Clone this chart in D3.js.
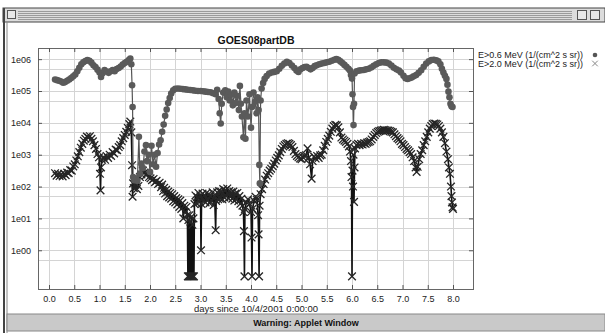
<!DOCTYPE html>
<html>
<head>
<meta charset="utf-8">
<script src="https://cdn.jsdelivr.net/npm/d3@7"></script>
<style>
  body { margin: 0; background: #fff; }
  svg { display: block; font-family: "Liberation Sans", Arial, sans-serif; }
</style>
</head>
<body>
<svg id="chart"></svg>
<script>
// tick values and labels
var xTicks = [0, 0.5, 1, 1.5, 2, 2.5, 3, 3.5, 4, 4.5, 5, 5.5, 6, 6.5, 7, 7.5, 8];
var yTicks = [1, 10, 100, 1000, 10000, 100000, 1000000];
var yTickLabels = ["1e00", "1e01", "1e02", "1e03", "1e04", "1e05", "1e06"];
var yMinor = [0.5, 5, 50, 500, 5000, 50000, 500000];
var seriesNames = ["E>0.6 MeV (1/(cm^2 s sr))", "E>2.0 MeV (1/(cm^2 s sr))"];

// floor used by the applet for empty readings (log10)
var F = -0.82;

// [day, log10 flux]
var p06 = [[0.12,5.36],[0.16,5.34],[0.20,5.32],[0.24,5.30],[0.28,5.26],[0.32,5.28],[0.36,5.32],[0.40,5.36],[0.44,5.41],[0.48,5.46],[0.52,5.52],[0.56,5.62],[0.60,5.73],[0.64,5.84],[0.68,5.90],[0.72,5.94],[0.76,5.97],[0.80,5.95],[0.84,5.89],[0.88,5.81],[0.92,5.75],[0.96,5.67],[1.00,5.58],[1.03,5.44],[1.06,5.56],[1.10,5.66],[1.14,5.61],[1.18,5.57],[1.22,5.62],[1.26,5.66],[1.30,5.62],[1.34,5.69],[1.38,5.72],[1.42,5.77],[1.46,5.83],[1.50,5.88],[1.54,5.92],[1.58,5.97],[1.61,6.02],[1.63,5.84],[1.645,5.18],[1.655,4.50],[1.665,2.30],[1.69,2.20],[1.72,2.26],[1.75,2.18],[1.78,3.56],[1.80,2.40],[1.83,2.72],[1.86,2.58],[1.89,3.10],[1.92,3.30],[1.94,2.80],[1.97,3.00],[2.00,2.46],[2.03,3.28],[2.06,2.70],[2.09,3.00],[2.12,2.62],[2.15,3.05],[2.18,3.32],[2.21,3.45],[2.24,3.72],[2.27,3.95],[2.30,4.22],[2.33,4.42],[2.36,4.62],[2.39,4.78],[2.42,4.92],[2.46,5.02],[2.50,5.07],[2.55,5.08],[2.60,5.07],[2.65,5.06],[2.70,5.05],[2.75,5.04],[2.80,5.03],[2.85,5.02],[2.90,5.01],[2.95,5.00],[3.00,5.00],[3.05,4.99],[3.10,4.98],[3.15,4.97],[3.20,4.96],[3.25,4.93],[3.30,4.90],[3.33,5.04],[3.36,4.75],[3.38,4.30],[3.40,3.98],[3.42,4.60],[3.45,4.95],[3.49,5.02],[3.52,4.80],[3.55,4.98],[3.58,4.70],[3.61,4.88],[3.64,4.55],[3.67,4.95],[3.70,4.62],[3.73,4.85],[3.76,4.40],[3.78,5.16],[3.80,4.60],[3.82,4.20],[3.85,3.55],[3.87,4.30],[3.89,3.50],[3.91,4.70],[3.94,4.20],[3.97,4.90],[4.00,3.85],[4.02,4.50],[4.05,4.95],[4.08,4.66],[4.11,4.30],[4.13,4.80],[4.15,4.40],[4.165,2.68],[4.175,2.10],[4.19,4.70],[4.21,5.08],[4.24,5.25],[4.27,5.38],[4.31,5.47],[4.36,5.55],[4.41,5.58],[4.46,5.60],[4.51,5.62],[4.56,5.70],[4.61,5.79],[4.66,5.86],[4.71,5.92],[4.76,5.88],[4.81,5.80],[4.86,5.72],[4.90,5.64],[4.94,5.60],[4.98,5.68],[5.02,5.72],[5.06,5.75],[5.10,5.76],[5.14,5.72],[5.18,5.68],[5.22,5.72],[5.26,5.78],[5.30,5.81],[5.35,5.84],[5.40,5.86],[5.45,5.88],[5.50,5.90],[5.55,5.92],[5.60,5.95],[5.65,5.98],[5.69,6.00],[5.73,5.98],[5.77,5.93],[5.81,5.88],[5.85,5.82],[5.89,5.76],[5.93,5.70],[5.96,5.64],[5.98,5.50],[6.00,5.39],[6.01,4.90],[6.02,4.50],[6.03,3.93],[6.04,4.60],[6.05,5.55],[6.09,5.62],[6.14,5.64],[6.18,5.65],[6.23,5.66],[6.28,5.68],[6.33,5.70],[6.38,5.74],[6.43,5.79],[6.48,5.84],[6.53,5.88],[6.58,5.90],[6.63,5.90],[6.68,5.89],[6.73,5.86],[6.78,5.80],[6.83,5.73],[6.88,5.68],[6.93,5.64],[6.97,5.58],[7.02,5.48],[7.06,5.40],[7.10,5.38],[7.14,5.40],[7.18,5.42],[7.22,5.46],[7.27,5.50],[7.32,5.57],[7.37,5.65],[7.42,5.76],[7.47,5.86],[7.52,5.93],[7.57,5.97],[7.62,5.98],[7.67,5.96],[7.71,5.93],[7.75,5.84],[7.78,5.70],[7.81,5.58],[7.84,5.48],[7.87,5.38],[7.89,5.20],[7.91,4.98],[7.93,4.80],[7.95,4.60],[7.97,4.52],[7.99,4.50]];

var p20 = [[0.12,2.42],[0.15,2.34],[0.18,2.40],[0.21,2.33],[0.24,2.38],[0.27,2.32],[0.30,2.40],[0.33,2.36],[0.36,2.44],[0.39,2.42],[0.42,2.52],[0.45,2.50],[0.48,2.63],[0.51,2.70],[0.54,2.82],[0.57,2.95],[0.60,3.08],[0.63,3.22],[0.66,3.34],[0.69,3.44],[0.72,3.50],[0.75,3.57],[0.78,3.54],[0.81,3.58],[0.84,3.50],[0.87,3.42],[0.90,3.30],[0.93,3.18],[0.96,3.02],[0.99,2.92],[1.01,2.40],[1.02,1.88],[1.03,2.60],[1.05,2.84],[1.08,2.92],[1.11,2.84],[1.14,2.96],[1.17,2.90],[1.20,3.00],[1.23,2.96],[1.26,3.08],[1.29,3.04],[1.32,3.16],[1.35,3.14],[1.38,3.24],[1.41,3.30],[1.44,3.42],[1.47,3.52],[1.50,3.62],[1.53,3.72],[1.56,3.84],[1.59,3.96],[1.61,4.04],[1.63,3.70],[1.645,2.67],[1.655,1.68],[1.665,2.10],[1.68,1.95],[1.71,2.06],[1.74,1.92],[1.77,2.02],[1.80,2.30],[1.83,2.38],[1.86,2.50],[1.89,2.44],[1.92,2.36],[1.95,2.42],[1.98,2.30],[2.01,2.26],[2.04,2.20],[2.07,2.24],[2.10,2.14],[2.13,2.18],[2.16,2.08],[2.19,2.12],[2.22,1.98],[2.24,2.06],[2.26,1.86],[2.28,1.96],[2.30,1.78],[2.32,1.90],[2.34,1.70],[2.36,1.84],[2.38,1.66],[2.40,1.80],[2.42,1.62],[2.44,1.76],[2.46,1.54],[2.48,1.70],[2.50,1.50],[2.52,1.64],[2.54,1.44],[2.56,1.60],[2.58,1.36],[2.60,1.56],[2.62,1.30],[2.64,1.48],[2.66,1.00],[2.68,1.40],[2.70,1.20],[2.72,1.36],[2.74,1.10],[2.75,F],[2.76,0.95],[2.77,F],[2.78,1.10],[2.79,F],[2.80,0.90],[2.81,F],[2.82,1.05],[2.83,F],[2.84,0.80],[2.85,F],[2.86,1.00],[2.87,F],[2.88,1.45],[2.90,1.72],[2.92,1.48],[2.94,1.66],[2.96,1.80],[2.98,1.52],[3.00,1.70],[3.01,0.00],[3.02,1.45],[3.04,1.78],[3.06,1.56],[3.08,1.72],[3.10,1.50],[3.12,1.80],[3.14,1.58],[3.16,1.76],[3.18,1.48],[3.20,1.70],[3.22,1.56],[3.24,1.82],[3.26,1.42],[3.28,1.68],[3.30,0.63],[3.31,1.55],[3.33,1.82],[3.35,1.60],[3.37,1.86],[3.39,1.62],[3.41,1.84],[3.43,1.60],[3.45,1.92],[3.47,1.66],[3.49,1.88],[3.51,1.70],[3.53,1.94],[3.55,1.64],[3.57,1.86],[3.59,1.68],[3.61,1.82],[3.63,1.62],[3.65,1.84],[3.67,1.56],[3.69,1.78],[3.71,1.60],[3.73,1.80],[3.75,1.54],[3.77,1.70],[3.79,1.46],[3.81,1.62],[3.83,1.40],[3.85,1.20],[3.86,0.60],[3.87,F],[3.88,1.30],[3.91,1.50],[3.94,1.60],[3.97,1.46],[4.00,1.20],[4.01,0.40],[4.02,F],[4.03,1.30],[4.06,1.55],[4.09,1.68],[4.12,1.58],[4.14,1.10],[4.15,0.50],[4.16,F],[4.17,1.40],[4.19,1.76],[4.22,1.92],[4.25,2.08],[4.28,2.22],[4.31,2.34],[4.34,2.42],[4.37,2.50],[4.40,2.56],[4.43,2.64],[4.46,2.72],[4.49,2.82],[4.52,2.90],[4.55,2.98],[4.58,3.08],[4.61,3.18],[4.64,3.26],[4.67,3.30],[4.70,3.34],[4.73,3.36],[4.76,3.34],[4.79,3.30],[4.82,3.24],[4.85,3.12],[4.88,3.02],[4.91,2.96],[4.94,2.92],[4.97,2.88],[5.00,2.86],[5.03,2.92],[5.06,2.96],[5.09,2.98],[5.12,3.20],[5.14,2.90],[5.17,2.70],[5.20,2.25],[5.22,2.80],[5.25,2.94],[5.28,2.88],[5.31,2.96],[5.34,2.90],[5.37,2.98],[5.40,3.00],[5.43,3.14],[5.46,3.28],[5.49,3.40],[5.52,3.50],[5.55,3.60],[5.58,3.72],[5.61,3.82],[5.64,3.90],[5.67,3.94],[5.70,3.92],[5.73,3.86],[5.76,3.70],[5.79,3.54],[5.82,3.48],[5.85,3.44],[5.88,3.40],[5.91,3.34],[5.94,3.26],[5.96,3.10],[5.98,2.80],[5.99,2.30],[6.00,F],[6.01,2.50],[6.02,2.00],[6.03,3.00],[6.04,1.52],[6.05,2.60],[6.06,3.20],[6.09,3.30],[6.12,3.34],[6.15,3.30],[6.18,3.34],[6.21,3.32],[6.24,3.36],[6.27,3.34],[6.30,3.38],[6.33,3.40],[6.36,3.42],[6.39,3.48],[6.42,3.56],[6.45,3.62],[6.48,3.68],[6.51,3.72],[6.54,3.74],[6.57,3.76],[6.60,3.77],[6.63,3.78],[6.66,3.77],[6.69,3.76],[6.72,3.76],[6.75,3.74],[6.78,3.72],[6.81,3.70],[6.84,3.64],[6.87,3.58],[6.90,3.52],[6.93,3.48],[6.96,3.42],[6.99,3.34],[7.02,3.30],[7.05,3.24],[7.08,3.18],[7.11,3.14],[7.14,3.08],[7.17,3.02],[7.20,2.92],[7.23,2.80],[7.26,2.60],[7.28,2.46],[7.30,2.62],[7.33,2.86],[7.36,3.02],[7.39,3.14],[7.42,3.30],[7.45,3.42],[7.48,3.56],[7.51,3.70],[7.54,3.82],[7.57,3.90],[7.60,3.96],[7.63,3.98],[7.66,3.97],[7.69,3.95],[7.72,3.90],[7.75,3.82],[7.78,3.70],[7.81,3.56],[7.84,3.36],[7.87,3.10],[7.90,2.86],[7.92,2.60],[7.94,2.40],[7.96,2.00],[7.97,1.70],[7.98,1.50],[7.99,1.35],[8.00,1.30]];

var W = 605, H = 333;
var svg = d3.select("#chart").attr("width", W).attr("height", H);

// ---- applet window chrome ----
svg.append("rect").attr("x", 0).attr("y", 0).attr("width", W).attr("height", H).attr("fill", "#fff");
svg.append("rect").attr("x", 3).attr("y", 8).attr("width", W - 3).attr("height", 14)
    .attr("fill", "#dcdcdc").attr("stroke", "#444").attr("stroke-width", 1);
for (var s = 11; s <= 19; s += 2) {
  svg.append("line").attr("x1", 18).attr("x2", 572).attr("y1", s + 0.5).attr("y2", s + 0.5)
      .attr("stroke", "#9a9a9a").attr("stroke-width", 1);
}
svg.append("rect").attr("x", 7.5).attr("y", 10.5).attr("width", 8).attr("height", 8)
    .attr("fill", "#e8e8e8").attr("stroke", "#555");
[577.5, 590.5].forEach(function(bx) {
  svg.append("rect").attr("x", bx).attr("y", 10.5).attr("width", 9).attr("height", 9)
      .attr("fill", "#e8e8e8").attr("stroke", "#555");
});
svg.append("line").attr("x1", 4).attr("x2", 4).attr("y1", 8).attr("y2", H).attr("stroke", "#444").attr("stroke-width", 2);
svg.append("line").attr("x1", 7).attr("x2", 7).attr("y1", 22).attr("y2", H).attr("stroke", "#888");
svg.append("rect").attr("x", 7).attr("y", 314).attr("width", W - 7).attr("height", 17)
    .attr("fill", "#c9c9c9").attr("stroke", "#888");
svg.append("text").attr("x", 306).attr("y", 326).attr("text-anchor", "middle")
    .attr("font-size", 9).attr("font-weight", "bold").attr("fill", "#111")
    .text("Warning: Applet Window");

// ---- plot ----
var x = d3.scaleLinear().domain([-0.218, 8.396]).range([38, 473]);
var y = d3.scaleLog().domain([Math.pow(10, -1.216), Math.pow(10, 6.35)]).range([289, 48]);

var g = svg.append("g");

// grid
g.selectAll(".vgrid").data(xTicks).enter().append("line")
    .attr("x1", function(d) { return Math.round(x(d)) + 0.5; })
    .attr("x2", function(d) { return Math.round(x(d)) + 0.5; })
    .attr("y1", 48).attr("y2", 289)
    .attr("stroke", "#d4d4d4");
g.selectAll(".hgrid").data(yTicks.concat(yMinor)).enter().append("line")
    .attr("y1", function(d) { return Math.round(y(d)) + 0.5; })
    .attr("y2", function(d) { return Math.round(y(d)) + 0.5; })
    .attr("x1", 38).attr("x2", 473)
    .attr("stroke", "#d4d4d4");

// frame
g.append("rect").attr("x", 38.5).attr("y", 48.5).attr("width", 435).attr("height", 241)
    .attr("fill", "none").attr("stroke", "#666");

// axes with inward ticks
var fmt = d3.format(".1f");
var axB = g.append("g").attr("transform", "translate(0,289)")
    .call(d3.axisBottom(x).tickValues(xTicks).tickSize(-4).tickPadding(7).tickFormat(fmt));
var axT = g.append("g").attr("transform", "translate(0,48)")
    .call(d3.axisTop(x).tickValues(xTicks).tickSize(-4).tickFormat(""));
var axL = g.append("g").attr("transform", "translate(38,0)")
    .call(d3.axisLeft(y).tickValues(yTicks).tickSize(-4).tickPadding(7)
      .tickFormat(function(d, i) { return yTickLabels[i]; }));
var axR = g.append("g").attr("transform", "translate(473,0)")
    .call(d3.axisRight(y).tickValues(yTicks).tickSize(-4).tickFormat(""));
[axB, axT, axL, axR].forEach(function(a) {
  a.select(".domain").remove();
  a.selectAll(".tick line").attr("stroke", "#555");
  a.selectAll("text").attr("font-size", 9).attr("fill", "#222")
      .attr("font-family", "Liberation Sans, Arial, sans-serif");
});

// series
var pts20 = p20.map(function(p) { return { d: p[0], v: Math.pow(10, p[1]) }; });
var pts06 = p06.map(function(p) { return { d: p[0], v: Math.pow(10, p[1]) }; });
var line = d3.line().x(function(p) { return x(p.d); }).y(function(p) { return y(p.v); });

var plot = g.append("g");
plot.append("path").datum(pts20).attr("d", line)
    .attr("fill", "none").attr("stroke", "#111").attr("stroke-width", 1.6);
var cross = d3.symbol().type(d3.symbolX).size(40);
plot.selectAll(".x20").data(pts20).enter().append("path")
    .attr("d", cross)
    .attr("transform", function(p) { return "translate(" + x(p.d) + "," + y(p.v) + ")"; })
    .attr("fill", "none").attr("stroke", "#262626").attr("stroke-width", 1.3);

plot.append("path").datum(pts06).attr("d", line)
    .attr("fill", "none").attr("stroke", "#555").attr("stroke-width", 1.2);
plot.selectAll(".c06").data(pts06).enter().append("circle")
    .attr("cx", function(p) { return x(p.d); })
    .attr("cy", function(p) { return y(p.v); })
    .attr("r", 3.3)
    .attr("fill", "#5a5a5a");

// title and axis label
svg.append("text").attr("x", 256).attr("y", 44).attr("text-anchor", "middle")
    .attr("font-size", 10.5).attr("font-weight", "bold").attr("fill", "#111")
    .text("GOES08partDB");
svg.append("text").attr("x", 256).attr("y", 312).attr("text-anchor", "middle")
    .attr("font-size", 9.5).attr("fill", "#222")
    .text("days since 10/4/2001 0:00:00");

// legend
var leg = svg.append("g");
seriesNames.forEach(function(name, i) {
  leg.append("text").attr("x", 478).attr("y", 58 + i * 9)
      .attr("font-size", 9).attr("fill", "#222").text(name);
});
leg.append("circle").attr("cx", 595).attr("cy", 55).attr("r", 2.3).attr("fill", "#555");
var crossLeg = d3.symbol().type(d3.symbolX).size(22);
leg.append("path").attr("d", crossLeg).attr("transform", "translate(595,63.5)")
    .attr("fill", "none").attr("stroke", "#888").attr("stroke-width", 1);
</script>
</body>
</html>
